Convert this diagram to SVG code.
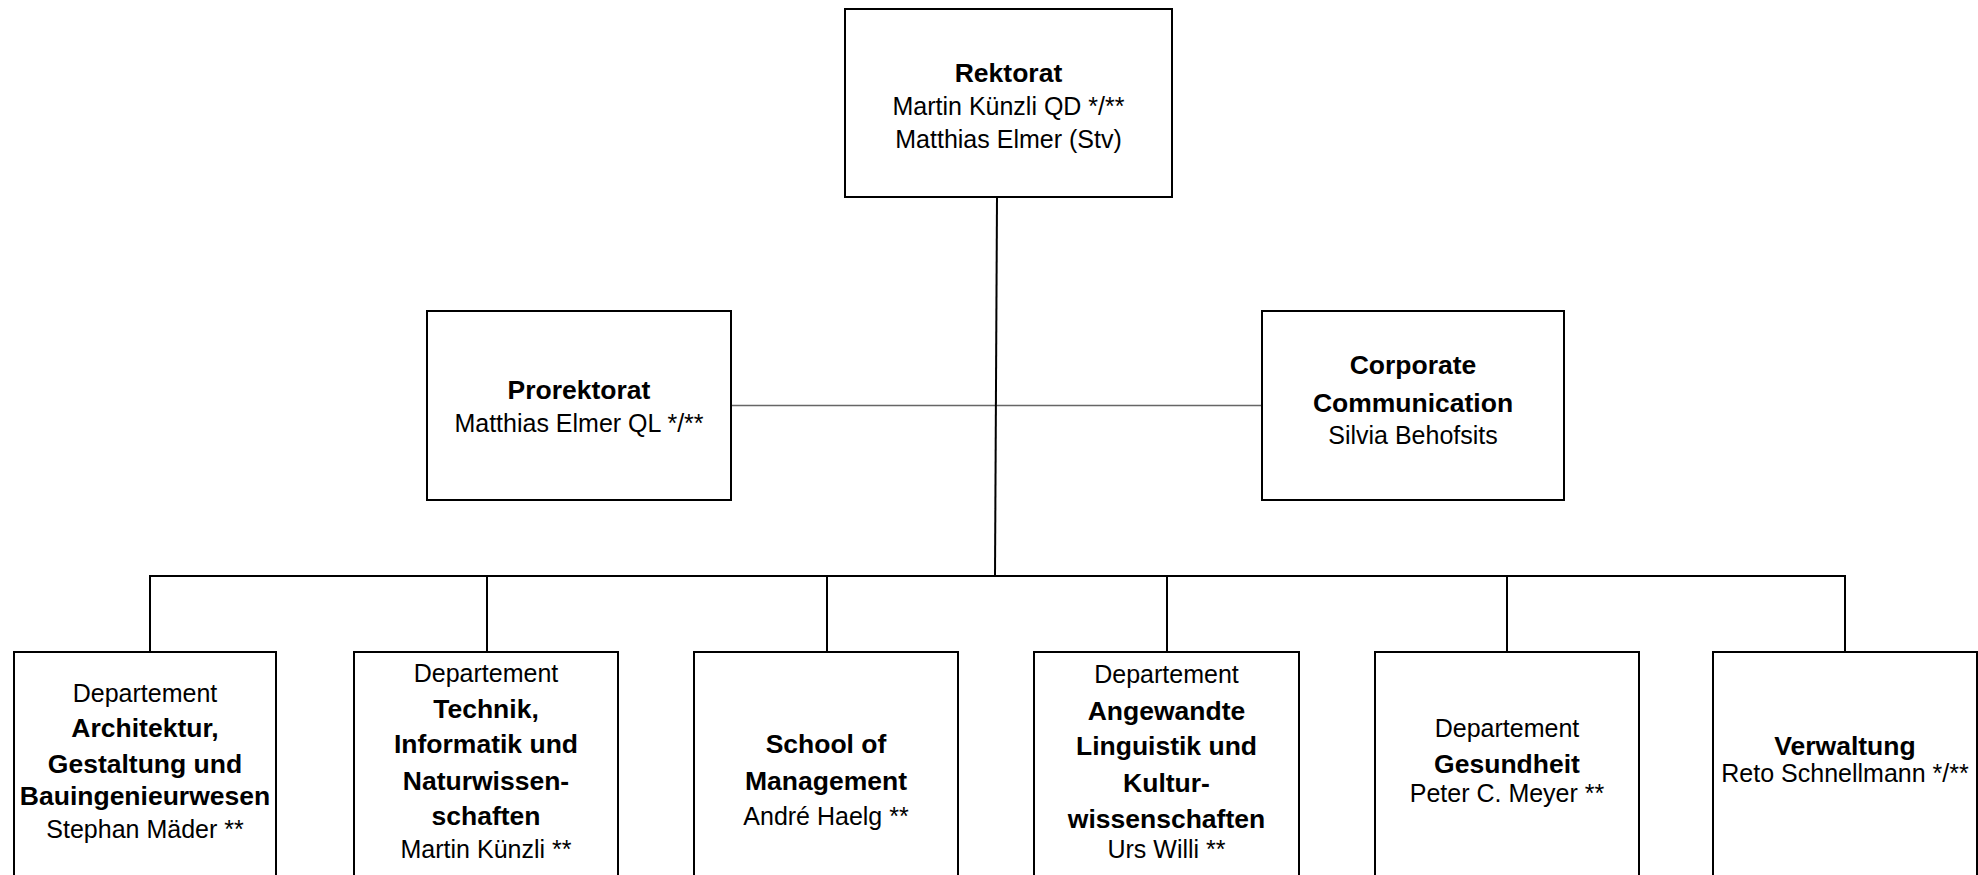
<svg xmlns="http://www.w3.org/2000/svg" width="1978" height="875" viewBox="0 0 1978 875">
<style>
.box{fill:#fff;stroke:#000;stroke-width:2}
.ln{fill:none;stroke:#000;stroke-width:2}
.thin{fill:none;stroke:#666;stroke-width:1.5}
text{font-family:"Liberation Sans",Arial,sans-serif;font-size:25px;fill:#000;text-anchor:middle}
.b{font-weight:bold;font-size:26.5px}
</style>
<rect width="1978" height="875" fill="#fff"/>
<g id="connectors">
<line class="thin" x1="731" y1="405.5" x2="1262" y2="405.5"/>
<line class="ln" x1="997" y1="197" x2="995" y2="576"/>
<polyline class="ln" points="150,652 150,576 1845,576 1845,652"/>
<line class="ln" x1="487" y1="576" x2="487" y2="652"/>
<line class="ln" x1="827" y1="576" x2="827" y2="652"/>
<line class="ln" x1="1167" y1="576" x2="1167" y2="652"/>
<line class="ln" x1="1507" y1="576" x2="1507" y2="652"/>
</g>
<g id="rektorat">
<rect class="box" x="845" y="9" width="327" height="188"/>
<text class="b" x="1008.5" y="82">Rektorat</text>
<text x="1008.5" y="115">Martin Künzli QD */**</text>
<text x="1008.5" y="148">Matthias Elmer (Stv)</text>
</g>
<g id="prorektorat">
<rect class="box" x="427" y="311" width="304" height="189"/>
<text class="b" x="579" y="399">Prorektorat</text>
<text x="579" y="432">Matthias Elmer QL */**</text>
</g>
<g id="corporate">
<rect class="box" x="1262" y="311" width="302" height="189"/>
<text class="b" x="1413" y="374">Corporate</text>
<text class="b" x="1413" y="412">Communication</text>
<text x="1413" y="444">Silvia Behofsits</text>
</g>
<g id="architektur">
<rect class="box" x="14" y="652" width="262" height="240"/>
<text x="145" y="702">Departement</text>
<text class="b" x="145" y="737">Architektur,</text>
<text class="b" x="145" y="773">Gestaltung und</text>
<text class="b" x="145" y="805">Bauingenieurwesen</text>
<text x="145" y="838">Stephan Mäder **</text>
</g>
<g id="technik">
<rect class="box" x="354" y="652" width="264" height="240"/>
<text x="486" y="682">Departement</text>
<text class="b" x="486" y="718">Technik,</text>
<text class="b" x="486" y="753">Informatik und</text>
<text class="b" x="486" y="790">Naturwissen-</text>
<text class="b" x="486" y="825">schaften</text>
<text x="486" y="858">Martin Künzli **</text>
</g>
<g id="management">
<rect class="box" x="694" y="652" width="264" height="240"/>
<text class="b" x="826" y="753">School of</text>
<text class="b" x="826" y="790">Management</text>
<text x="826" y="825">André Haelg **</text>
</g>
<g id="linguistik">
<rect class="box" x="1034" y="652" width="265" height="240"/>
<text x="1166.5" y="683">Departement</text>
<text class="b" x="1166.5" y="720">Angewandte</text>
<text class="b" x="1166.5" y="755">Linguistik und</text>
<text class="b" x="1166.5" y="792">Kultur-</text>
<text class="b" x="1166.5" y="828">wissenschaften</text>
<text x="1166.5" y="858">Urs Willi **</text>
</g>
<g id="gesundheit">
<rect class="box" x="1375" y="652" width="264" height="240"/>
<text x="1507" y="737">Departement</text>
<text class="b" x="1507" y="773">Gesundheit</text>
<text x="1507" y="802">Peter C. Meyer **</text>
</g>
<g id="verwaltung">
<rect class="box" x="1713" y="652" width="264" height="240"/>
<text class="b" x="1845" y="755">Verwaltung</text>
<text x="1845" y="782">Reto Schnellmann */**</text>
</g>
</svg>
